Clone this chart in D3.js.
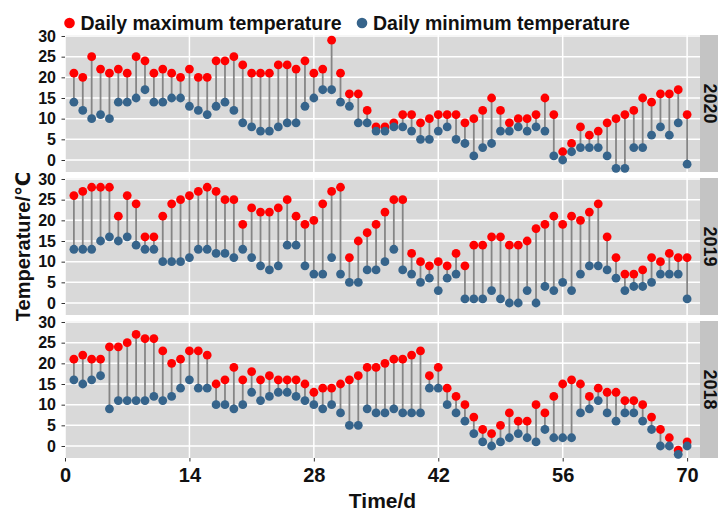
<!DOCTYPE html>
<html>
<head>
<meta charset="utf-8">
<script src="https://cdn.jsdelivr.net/npm/d3@7"></script>
<style>
  html, body { margin: 0; padding: 0; background: #ffffff; }
  svg { display: block; }
  text { font-family: "Liberation Sans", Arial, "DejaVu Sans", sans-serif; font-weight: bold; fill: #111; }
</style>
</head>
<body>
<script>
// Facet years, top to bottom
const years = ["2020", "2019", "2018"];

// Daily maximum / minimum temperature (°C), days 1..70
const max2020 = [21,20,25,22,21,22,21,25,24,21, 22,21,20,22,20,20,24,24,25,23,
                 21,21,21,23,23,22,24,21,22,29, 21,16,16,12,8,8,9,11,11,9,
                 10,11,11,11,9,10,12,15,12,9, 10,10,11,15,11,2,4,8,6,7,
                 9,10,11,12,15,14,16,16,17,11];
const min2020 = [14,12,10,11,10,14,14,15,17,14, 14,15,15,13,12,11,13,14,12,9,
                 8,7,7,8,9,9,13,15,17,17, 14,13,9,9,7,7,8,8,7,5,
                 5,7,8,5,4,1,3,4,7,7, 8,7,8,7,1,0,2,3,3,3,
                 1,-2,-2,3,3,6,8,6,9,-1];

const max2019 = [26,27,28,28,28,21,26,24,16,16, 21,24,25,26,27,28,27,25,25,19,
                 23,22,22,23,25,21,19,20,24,27, 28,11,15,17,19,22,25,25,12,10,
                 9,10,9,12,9,14,14,16,16,14, 14,15,18,19,21,19,21,20,22,24,
                 16,11,7,7,8,11,10,12,11,11];
const min2019 = [13,13,13,15,16,15,16,14,13,13, 10,10,10,11,13,13,12,12,11,13,
                 11,9,8,9,14,14,9,7,7,11, 7,5,5,8,8,10,13,8,7,5,
                 6,3,6,7,1,1,1,3,1,0, 0,3,0,4,3,5,3,7,9,9,
                 8,6,3,4,4,5,7,7,7,1];

const max2018 = [21,22,21,21,24,24,25,27,26,26, 23,20,21,23,23,22,15,16,19,16,
                 18,16,17,16,16,16,15,13,14,14, 15,16,17,19,19,20,21,21,22,23,
                 17,19,14,12,10,7,4,3,5,8, 6,6,10,8,12,15,16,15,12,14,
                 13,13,11,11,10,7,4,2,-1,1];
const min2018 = [16,15,16,17,9,11,11,11,11,12, 11,12,14,16,14,14,10,10,9,10,
                 13,11,12,13,13,12,11,10,9,10, 8,5,5,9,8,8,9,8,8,8,
                 14,14,10,8,6,3,1,0,1,2, 3,2,1,4,2,2,2,8,9,11,
                 8,6,8,8,6,4,0,0,-2,0];

const yTicks = [0, 5, 10, 15, 20, 25, 30];
const xTicks = [0, 14, 28, 42, 56, 70];

const legendLabels = ["Daily maximum temperature", "Daily minimum temperature"];
const xTitle = "Time/d";
const yTitle = "Temperature/\u2103";

const maxByYear = { "2020": max2020, "2019": max2019, "2018": max2018 };
const minByYear = { "2020": min2020, "2019": min2019, "2018": min2018 };

// Layout
const W = 718, H = 512;
const panelLeft = 65, panelRight = 700;
const panelTops = [35, 178, 321];
const panelH = 137;
const stripW = 24;

const colMax = "#ff0000";
const colMin = "#36648b";
const colSeg = "#858585";
const panelBg = "#d9d9d9";
const stripBg = "#c4c4c4";

const svg = d3.select("body").append("svg")
  .attr("width", W).attr("height", H);

const x = d3.scaleLinear().domain([0, 71.45]).range([panelLeft, panelRight]);

years.forEach((yr, i) => {
  const top = panelTops[i];
  const y = d3.scaleLinear().domain([-2.9, 30.24]).range([top + panelH, top]);
  const rows = maxByYear[yr].map((hi, k) => ({ day: k + 1, hi: hi, lo: minByYear[yr][k] }));

  const g = svg.append("g");

  // panel background
  g.append("rect")
    .attr("x", panelLeft).attr("y", top)
    .attr("width", panelRight - panelLeft).attr("height", panelH)
    .attr("fill", panelBg);

  // grid lines
  g.selectAll("line.hgrid").data(yTicks).join("line")
    .attr("class", "hgrid")
    .attr("x1", panelLeft).attr("x2", panelRight)
    .attr("y1", d => y(d)).attr("y2", d => y(d))
    .attr("stroke", "#ffffff").attr("stroke-width", 1.5);
  g.selectAll("line.vgrid").data(xTicks).join("line")
    .attr("class", "vgrid")
    .attr("x1", d => x(d)).attr("x2", d => x(d))
    .attr("y1", top).attr("y2", top + panelH)
    .attr("stroke", "#ffffff").attr("stroke-width", 1.5);

  // strip on the right
  g.append("rect")
    .attr("x", panelRight).attr("y", top)
    .attr("width", stripW).attr("height", panelH)
    .attr("fill", stripBg);
  g.append("text")
    .attr("transform", `translate(${panelRight + 3.5},${top + panelH / 2}) rotate(90)`)
    .attr("text-anchor", "middle")
    .style("font-size", "18px")
    .text(yr);

  // y axis
  const yAxis = d3.axisLeft(y).tickValues(yTicks).tickSize(3.5).tickPadding(5.5);
  const ya = g.append("g").attr("transform", `translate(${panelLeft},0)`).call(yAxis);
  ya.select(".domain").remove();
  ya.selectAll(".tick line").attr("stroke", "#333").attr("stroke-width", 1);
  ya.selectAll(".tick text")
    .style("font-size", "16px").style("font-weight", "bold")
    .style("font-family", "'Liberation Sans', Arial, sans-serif")
    .attr("fill", "#111");

  // connecting segments
  g.selectAll("line.seg").data(rows).join("line")
    .attr("class", "seg")
    .attr("x1", d => x(d.day)).attr("x2", d => x(d.day))
    .attr("y1", d => y(d.hi)).attr("y2", d => y(d.lo))
    .attr("stroke", colSeg).attr("stroke-width", 1.8);

  // maximum points
  g.selectAll("circle.hi").data(rows).join("circle")
    .attr("class", "hi")
    .attr("cx", d => x(d.day)).attr("cy", d => y(d.hi))
    .attr("r", 4.4).attr("fill", colMax);

  // minimum points
  g.selectAll("circle.lo").data(rows).join("circle")
    .attr("class", "lo")
    .attr("cx", d => x(d.day)).attr("cy", d => y(d.lo))
    .attr("r", 4.4).attr("fill", colMin);
});

// x axis under the bottom panel
const bottom = panelTops[2] + panelH;
const xAxis = d3.axisBottom(x).tickValues(xTicks).tickSize(3.5).tickPadding(6);
const xa = svg.append("g").attr("transform", `translate(0,${bottom})`).call(xAxis);
xa.select(".domain").remove();
xa.selectAll(".tick line").attr("stroke", "#333").attr("stroke-width", 1);
xa.selectAll(".tick text")
  .style("font-size", "20px").style("font-weight", "bold")
  .style("font-family", "'Liberation Sans', Arial, sans-serif")
  .attr("fill", "#111");

// axis titles
svg.append("text")
  .attr("x", (panelLeft + panelRight) / 2).attr("y", 508)
  .attr("text-anchor", "middle")
  .style("font-size", "21px")
  .text(xTitle);

svg.append("text")
  .attr("transform", `translate(30,${(panelTops[0] + bottom) / 2}) rotate(-90)`)
  .attr("text-anchor", "middle")
  .style("font-size", "20px")
  .text(yTitle);

// legend
const legend = svg.append("g");
const legendItems = [
  { label: legendLabels[0], color: colMax, cx: 69.5 },
  { label: legendLabels[1], color: colMin, cx: 362 }
];
legendItems.forEach(it => {
  legend.append("circle").attr("cx", it.cx).attr("cy", 23).attr("r", 5.3).attr("fill", it.color);
  legend.append("text")
    .attr("x", it.cx + 11).attr("y", 29.5)
    .style("font-size", "19.5px")
    .text(it.label);
});
</script>
</body>
</html>
